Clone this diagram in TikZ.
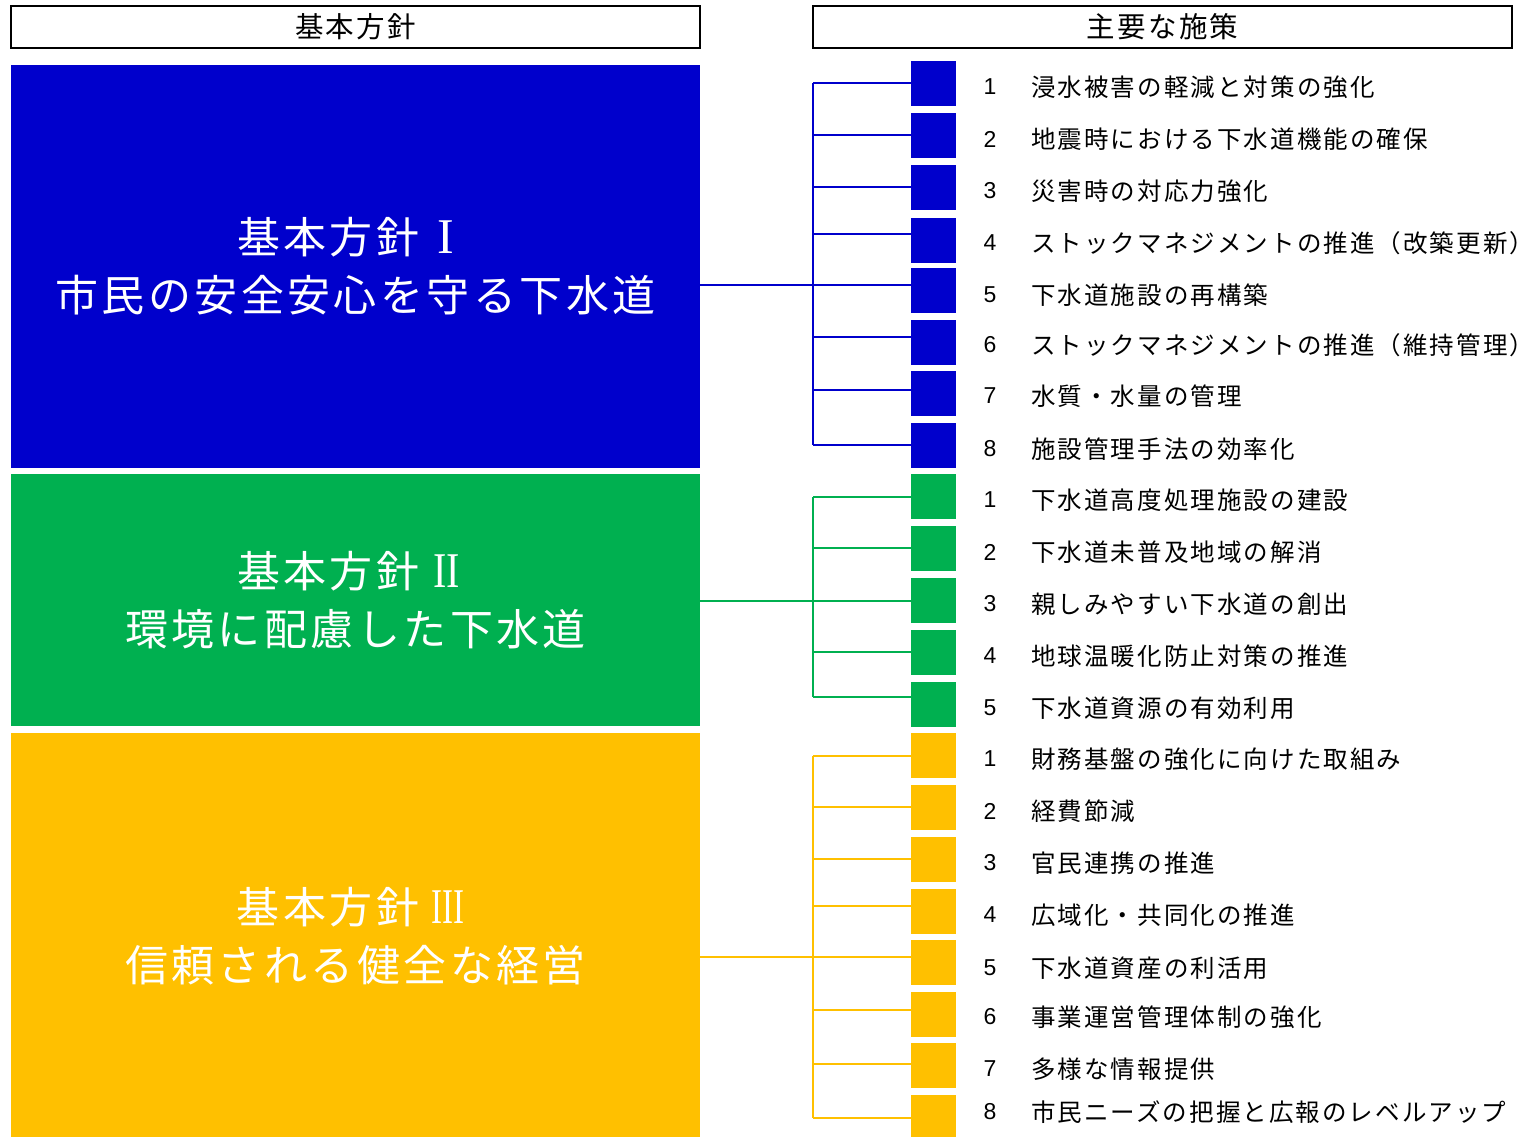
\documentclass[tikz,border=0pt]{standalone}
\usepackage{fontspec}
\newfontfamily\jpitem[LetterSpace=8.5]{Noto Sans CJK JP}
\newfontfamily\jphead[LetterSpace=8]{Noto Sans CJK JP}
\newfontfamily\jpbig[LetterSpace=8]{Noto Sans CJK JP}
\newfontfamily\romfont{Liberation Serif}
\newfontfamily\numfont{Liberation Sans}
\newcommand\romnum[2]{{\romfont\fontsize{50}{50}\selectfont\scalebox{#1}[1]{#2}}}
\definecolor{polblue}{RGB}{0,0,204}
\definecolor{polgreen}{RGB}{0,176,80}
\definecolor{polyellow}{RGB}{255,192,0}
\tikzset{
  headbox/.style={draw=black, line width=1.2pt, minimum height=42pt, inner sep=0pt,
    font=\jphead\fontsize{28.5}{30}\selectfont},
  bigbox/.style={minimum width=689pt, inner sep=0pt, text=white, align=center,
    font=\jpbig\fontsize{43}{58}\selectfont},
  sqbox/.style={minimum width=45pt, minimum height=45pt, inner sep=0pt},
  conn/.style={line width=1.3pt},
  numtxt/.style={inner sep=0pt, anchor=center, font=\numfont\fontsize{23}{26}\selectfont},
  itemtxt/.style={inner sep=0pt, anchor=west, font=\jpitem\fontsize{24.5}{26}\selectfont}
}
\begin{document}
\begin{tikzpicture}[x=1pt,y=-1pt]
\useasboundingbox[fill=white] (0,0) rectangle (1524,1136);
% headers
\node[headbox, minimum width=689pt] (hL) at (355.5,27) {基本方針};
\node[headbox, minimum width=699pt] (hR) at (1162.5,27) {主要な施策};
% policy boxes
\node[bigbox, fill=polblue, minimum height=403pt] (boxA) at (355.5,266.5) {基本方針\kern18pt\romnum{1}{I}\hbox to 20pt{}\\市民の安全安心を守る下水道};
\node[bigbox, fill=polgreen, minimum height=252pt] (boxB) at (355.5,600) {基本方針\kern14pt\romnum{0.8}{II}\hbox to 14pt{}\\環境に配慮した下水道};
\node[bigbox, fill=polyellow, minimum height=406pt] (boxC) at (355.5,936) {基本方針\kern12pt\romnum{0.66}{III}\hbox to 10pt{}\\信頼される健全な経営};
% measures
\foreach \i/\sy/\ty/\ly/\col/\num/\txt in {
 0/83.5/87/83/polblue/1/浸水被害の軽減と対策の強化,
 1/135.5/139/135/polblue/2/地震時における下水道機能の確保,
 2/187.5/191/187/polblue/3/災害時の対応力強化,
 3/240.5/243/234/polblue/4/ストックマネジメントの推進（改築更新）,
 4/290.5/295/285/polblue/5/下水道施設の再構築,
 5/342.5/345/337/polblue/6/ストックマネジメントの推進（維持管理）,
 6/393.5/396/390/polblue/7/水質・水量の管理,
 7/445.5/449/445/polblue/8/施設管理手法の効率化,
 8/496.5/500/497/polgreen/1/下水道高度処理施設の建設,
 9/548.5/552/548/polgreen/2/下水道未普及地域の解消,
 10/600.5/604/601/polgreen/3/親しみやすい下水道の創出,
 11/652.5/656/652/polgreen/4/地球温暖化防止対策の推進,
 12/704.5/708/697/polgreen/5/下水道資源の有効利用,
 13/755.5/759/756/polyellow/1/財務基盤の強化に向けた取組み,
 14/807.5/811/807/polyellow/2/経費節減,
 15/859.5/863/859/polyellow/3/官民連携の推進,
 16/911.5/915/906/polyellow/4/広域化・共同化の推進,
 17/962.5/968/957/polyellow/5/下水道資産の利活用,
 18/1014.5/1017/1010/polyellow/6/事業運営管理体制の強化,
 19/1065.5/1069/1064/polyellow/7/多様な情報提供,
 20/1117.5/1112/1118/polyellow/8/市民ニーズの把握と広報のレベルアップ}
{
  \node[sqbox, fill=\col] (sq\i) at (933.5,\sy) {};
  \coordinate (c\i) at (813,\ly);
  \draw[conn, draw=\col] (c\i) -- (c\i -| sq\i.west);
  \node[numtxt] (n\i) at (990,\ty) {\num};
  \node[itemtxt] (t\i) at (1031,\ty) {\txt};
}
% trunks
\draw[conn, draw=polblue] (c0) -- (c7);
\draw[conn, draw=polgreen] (c8) -- (c12);
\draw[conn, draw=polyellow] (c13) -- (c20);
% main links
\draw[conn, draw=polblue] (boxA.east |- c4) -- (c4);
\draw[conn, draw=polgreen] (boxB.east |- c10) -- (c10);
\draw[conn, draw=polyellow] (boxC.east |- c17) -- (c17);
\end{tikzpicture}
\end{document}
